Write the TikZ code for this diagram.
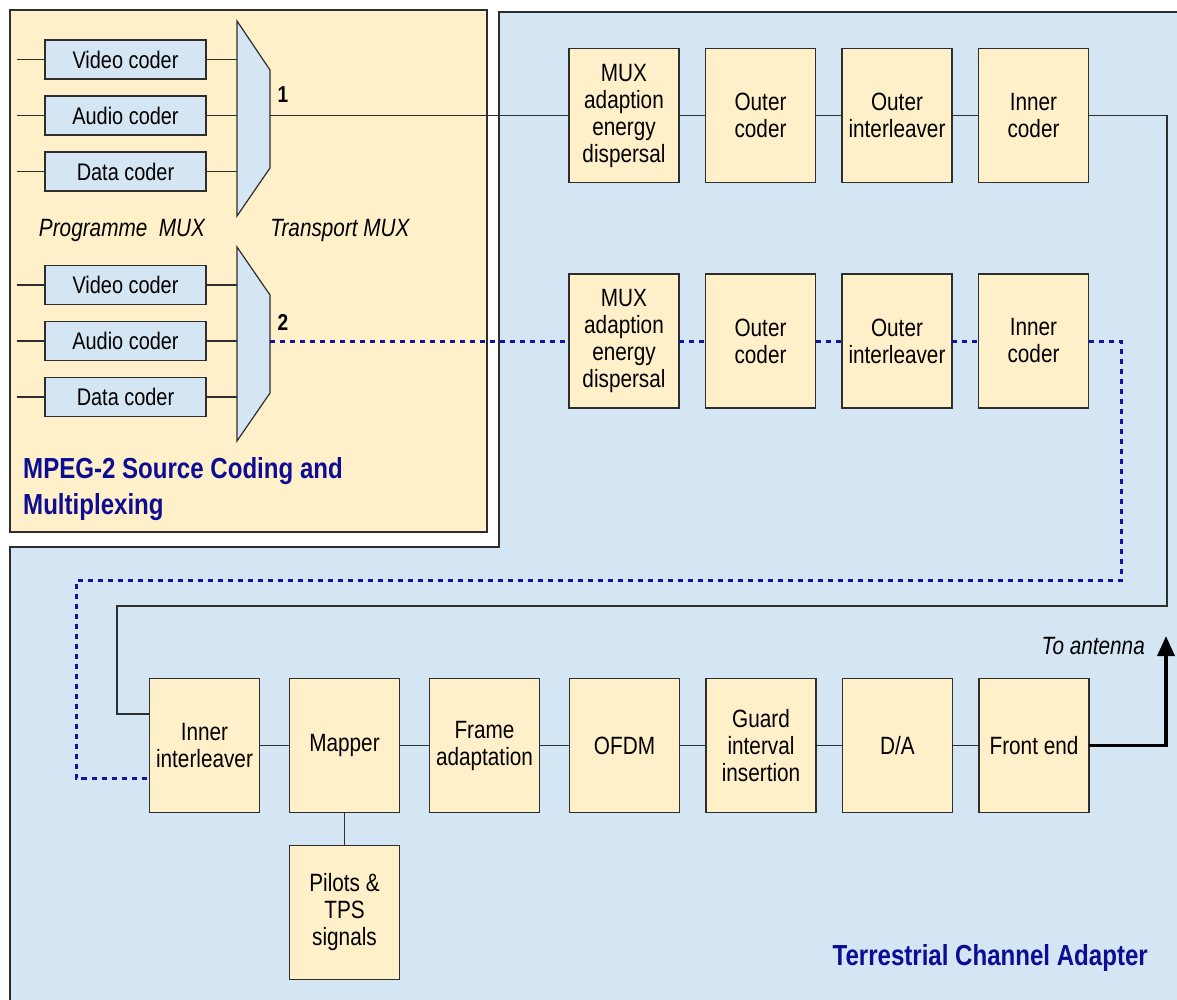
\documentclass[tikz,border=0pt]{standalone}
\usepackage{fontspec}
\setmainfont{Liberation Sans}[FakeStretch=0.83]
\usepackage{xcolor}
\usetikzlibrary{positioning,arrows.meta}

\definecolor{stagebeige}{HTML}{FFF0C9}
\definecolor{areablue}{HTML}{D4E5F4}
\definecolor{linegray}{HTML}{2E2E2E}
\definecolor{titleblue}{HTML}{0C0C94}
\definecolor{dashblue}{HTML}{1414A2}

\begin{document}
\begin{tikzpicture}[x=1pt,y=-1pt,node distance=26.5pt]
  \tikzstyle{coder}=[draw=linegray,line width=1.2pt,fill=areablue,minimum width=161pt,minimum height=39pt,inner sep=0pt,outer sep=0pt,font=\fontsize{24}{26}\selectfont]
  \tikzstyle{stage}=[draw=linegray,line width=1.2pt,fill=stagebeige,minimum width=110pt,minimum height=134pt,inner sep=0pt,outer sep=0pt,align=center,font=\fontsize{25}{27}\selectfont]
  \tikzstyle{link}=[draw=linegray,line width=1.3pt]
  \tikzstyle{link2}=[draw=dashblue,line width=3pt,dash pattern=on 5pt off 5pt]
  \tikzstyle{mux}=[draw=linegray,line width=1.2pt,fill=areablue]
  \tikzstyle{caption}=[inner sep=0pt,font=\fontsize{25}{28}\selectfont\itshape]
  \tikzstyle{areatitle}=[inner sep=0pt,align=left,text=titleblue,font=\fontsize{29}{36}\selectfont\bfseries]
  \useasboundingbox (0,0) rectangle (1177,1000);

  % the two areas
  \filldraw[fill=areablue,draw=linegray,line width=1.2pt]
    (499,12) -- (1200,12) -- (1200,1020) -- (10,1020) -- (10,547) -- (499,547) -- cycle;
  \filldraw[fill=stagebeige,draw=linegray,line width=1.2pt] (10,10) rectangle (487,532);

  % source coding
  \node[coder] (vid_1) at (125.5,59.5) {Video coder};
  \node[coder,below=17pt of vid_1] (aud_1) {Audio coder};
  \node[coder,below=17pt of aud_1] (dat_1) {Data coder};
  \node[coder] (vid_2) at (125.5,285) {Video coder};
  \node[coder,below=17pt of vid_2] (aud_2) {Audio coder};
  \node[coder,below=17pt of aud_2] (dat_2) {Data coder};
  \coordinate (mxin) at (237,0);
  \foreach \c in {vid_1,aud_1,dat_1,vid_2,aud_2,dat_2}{
    \draw[link] (\c.west) -- ++(-28,0);
    \draw[link] (\c.east) -- (\c.east -| mxin);
  }
  \filldraw[mux] (237,21) -- (270,70) -- (270,168) -- (237,216) -- cycle;
  \filldraw[mux] (237,247) -- (270,295) -- (270,393) -- (237,441) -- cycle;
  \coordinate (tsout_1) at (270,115.5);
  \coordinate (tsout_2) at (270,341);
  \node[font=\fontsize{23}{24}\selectfont\bfseries] (num_1) at (283,95) {1};
  \node[font=\fontsize{23}{24}\selectfont\bfseries] (num_2) at (283,322) {2};
  \node[caption] (pmux) at (122,230) {Programme\ \ MUX};
  \node[caption] (tmux) at (340,230) {Transport MUX};
  \node[areatitle,anchor=west] (srctitle) at (23,489) {MPEG-2 Source Coding and\\Multiplexing};

  % channel adapter, first and second branch
  \node[stage] (mad_1) at (624,115.5) {MUX\\adaption\\energy\\dispersal};
  \node[stage,right=of mad_1] (oc_1) {Outer\\coder};
  \node[stage,right=of oc_1] (oil_1) {Outer\\interleaver};
  \node[stage,right=of oil_1] (ic_1) {Inner\\coder};
  \node[stage] (mad_2) at (624,341) {MUX\\adaption\\energy\\dispersal};
  \node[stage,right=of mad_2] (oc_2) {Outer\\coder};
  \node[stage,right=of oc_2] (oil_2) {Outer\\interleaver};
  \node[stage,right=of oil_2] (ic_2) {Inner\\coder};

  % common part
  \node[stage] (ofdm) at (624.5,745.5) {OFDM};
  \node[stage,left=30pt of ofdm] (frame) {Frame\\adaptation};
  \node[stage,left=30pt of frame] (mapper) {Mapper};
  \node[stage,left=30pt of mapper] (inner_il) {Inner\\interleaver};
  \node[stage,right=of ofdm] (guard) {Guard\\interval\\insertion};
  \node[stage,right=of guard] (da) {D/A};
  \node[stage,right=of da] (front) {Front end};
  \node[stage,below=33pt of mapper] (pilots) {Pilots \&\\TPS\\signals};

  \coordinate (loop_a) at (1167,606);
  \coordinate (loop_b) at (117,606);
  \coordinate (dloop_a) at (1121,580);
  \coordinate (dloop_b) at (76,580);
  \coordinate (ant) at (1166,636);
  \node[caption,anchor=east] (antlabel) at (1145,646) {To antenna};
  \node[areatitle,anchor=east] (tcatitle) at (1148,958) {Terrestrial Channel Adapter};

  \path[link]
    (tsout_1) -- (mad_1.west)
    (mad_1) -- (oc_1) (oc_1) -- (oil_1) (oil_1) -- (ic_1)
    (ic_1.east) -| (loop_a) -- (loop_b) |- ([yshift=31.5pt]inner_il.west)
    (inner_il) -- (mapper) (mapper) -- (frame) (frame) -- (ofdm)
    (ofdm) -- (guard) (guard) -- (da) (da) -- (front)
    (mapper) -- (pilots);
  \path[link2]
    (tsout_2) -- (mad_2.west)
    (mad_2) -- (oc_2) (oc_2) -- (oil_2) (oil_2) -- (ic_2)
    (ic_2.east) -| (dloop_a) -- (dloop_b) |- ([yshift=-32.5pt]inner_il.west);
  \draw[line width=3.5pt,-{Triangle[length=20pt,width=17pt]}] (front.east) -| (ant);
\end{tikzpicture}
\end{document}
